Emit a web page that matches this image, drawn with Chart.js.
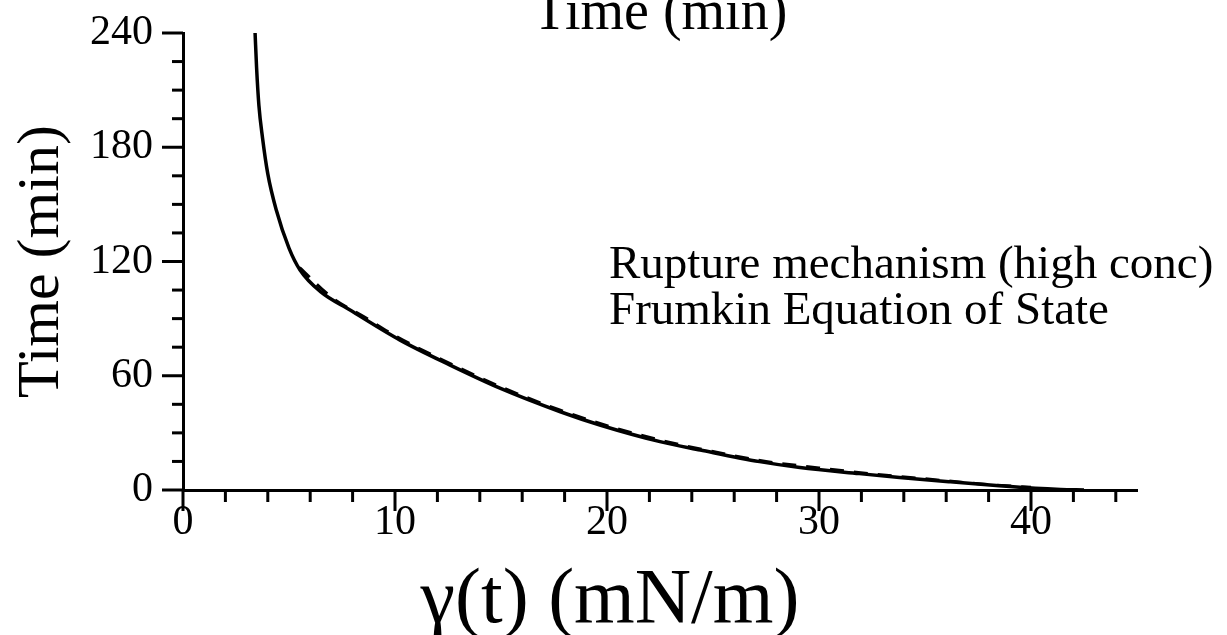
<!DOCTYPE html>
<html>
<head>
<meta charset="utf-8">
<script src="https://cdn.jsdelivr.net/npm/chart.js@4/dist/chart.umd.min.js"></script>
<style>
  html, body { margin: 0; padding: 0; background: #fff; }
  #c { display: block; }
</style>
</head>
<body>
<canvas id="c" width="1227" height="635"></canvas>
<script>
// ---- data ----
const gammaFit = [3.40, 3.47, 3.58, 3.75, 4.0, 4.4, 5.0, 5.52, 6.5, 7.88, 10.24, 12.6, 14.95, 17.8, 19.7, 22.5, 24.4, 27.2, 29.1, 31.9, 33.8, 36.2, 38.5, 40.2, 41.4, 42.5];
const timeFit  = [240, 222, 202, 185, 166, 147, 127, 115.5, 104, 94.5, 78.7, 65.6, 53.5, 41.1, 34, 25.4, 21, 14.9, 11.8, 8.6, 6.6, 4.3, 2.2, 0.9, 0.3, 0];

const gammaExp = [5.5, 7.0, 8.5, 10.2, 12.6, 15.0, 17.8, 20.0, 22.5, 25.0, 27.5, 30.0, 32.5, 35.0, 37.5, 40.0];
const timeExp  = [116.8, 101.3, 91.2, 79.8, 66.4, 54.1, 41.9, 33.8, 26.2, 20.2, 15.0, 11.6, 8.5, 5.9, 3.3, 1.4];

const xTickLabels = [0, 10, 20, 30, 40];
const yTickLabels = [0, 60, 120, 180, 240];
const xMinorStep = 2;
const yMinorStep = 15;

const topTitle = 'Time (min)';
const xTitle = 'γ(t) (mN/m)';
const yTitle = 'Time (min)';
const noteLines = ['Rupture mechanism (high conc)', 'Frumkin Equation of State'];

const SERIF = '"Liberation Serif", "DejaVu Serif", serif';

const toXY = (xs, ys) => xs.map((x, i) => ({ x: x, y: ys[i] }));

const bgPlugin = {
  id: 'bg',
  beforeDraw(chart) {
    const ctx = chart.ctx;
    ctx.save();
    ctx.fillStyle = '#fff';
    ctx.fillRect(0, 0, chart.width, chart.height);
    ctx.restore();
  }
};

const decoPlugin = {
  id: 'deco',
  afterDraw(chart) {
    const ctx = chart.ctx;
    const xs = chart.scales.x, ys = chart.scales.y;
    const area = chart.chartArea;
    ctx.save();
    ctx.strokeStyle = '#000';
    ctx.lineWidth = 3;
    ctx.lineCap = 'butt';
    for (let v = 0; v <= 44; v += xMinorStep) {
      const px = xs.getPixelForValue(v);
      const len = xTickLabels.includes(v) ? 21 : 12;
      ctx.beginPath();
      ctx.moveTo(px, area.bottom);
      ctx.lineTo(px, area.bottom + len);
      ctx.stroke();
    }
    for (let v = 0; v <= 240; v += yMinorStep) {
      const py = ys.getPixelForValue(v);
      const len = yTickLabels.includes(v) ? 21 : 11;
      ctx.beginPath();
      ctx.moveTo(area.left, py);
      ctx.lineTo(area.left - len, py);
      ctx.stroke();
    }
    ctx.fillStyle = '#000';
    ctx.textBaseline = 'alphabetic';
    // top (cut off) title
    ctx.font = '56px ' + SERIF;
    ctx.textAlign = 'center';
    ctx.fillText(topTitle, (area.left + area.right) / 2, 29);
    // x-axis title
    ctx.font = '78px ' + SERIF;
    ctx.fillText(xTitle, 610, 622);
    // annotation
    ctx.font = '47px ' + SERIF;
    ctx.textAlign = 'left';
    ctx.fillText(noteLines[0], 609, 278);
    ctx.fillText(noteLines[1], 609, 324);
    ctx.restore();
  }
};

new Chart(document.getElementById('c'), {
  type: 'line',
  data: {
    datasets: [
      {
        label: 'Frumkin fit',
        data: toXY(gammaFit, timeFit),
        borderColor: '#000',
        borderWidth: 3.5,
        pointRadius: 0,
        fill: false,
        cubicInterpolationMode: 'monotone'
      },
      {
        label: 'Experiment',
        data: toXY(gammaExp, timeExp),
        borderColor: '#000',
        borderWidth: 3,
        borderDash: [14, 10],
        pointRadius: 0,
        fill: false,
        cubicInterpolationMode: 'monotone'
      }
    ]
  },
  options: {
    responsive: false,
    animation: false,
    layout: { padding: { top: 33, right: 90, left: 0, bottom: 0 } },
    plugins: {
      legend: { display: false },
      tooltip: { enabled: false },
      title: { display: false }
    },
    scales: {
      x: {
        type: 'linear',
        min: 0,
        max: 45,
        position: 'bottom',
        grid: { display: false, drawTicks: false },
        border: { display: true, color: '#000', width: 3 },
        ticks: {
          stepSize: 10,
          includeBounds: false,
          autoSkip: false,
          maxRotation: 0,
          padding: 8,
          color: '#000',
          font: { family: SERIF, size: 42 },
          callback: (v) => xTickLabels.includes(v) ? String(v) : ''
        },
        afterFit(scale) {
          scale.height = 145;
          scale.paddingLeft = 0;
          scale.paddingRight = 0;
        }
      },
      y: {
        type: 'linear',
        min: 0,
        max: 240,
        grid: { display: false, drawTicks: false },
        border: { display: true, color: '#000', width: 3 },
        ticks: {
          stepSize: 60,
          autoSkip: false,
          padding: 30,
          color: '#000',
          font: { family: SERIF, size: 42 },
          callback: (v) => yTickLabels.includes(v) ? String(v) : ''
        },
        title: {
          display: true,
          text: yTitle,
          color: '#000',
          font: { family: SERIF, size: 60, lineHeight: 1 },
          padding: { top: 12, bottom: 0 }
        },
        afterFit(scale) {
          scale.width = 183;
          scale.paddingTop = 0;
          scale.paddingBottom = 0;
        }
      }
    }
  },
  plugins: [bgPlugin, decoPlugin]
});
</script>
</body>
</html>
